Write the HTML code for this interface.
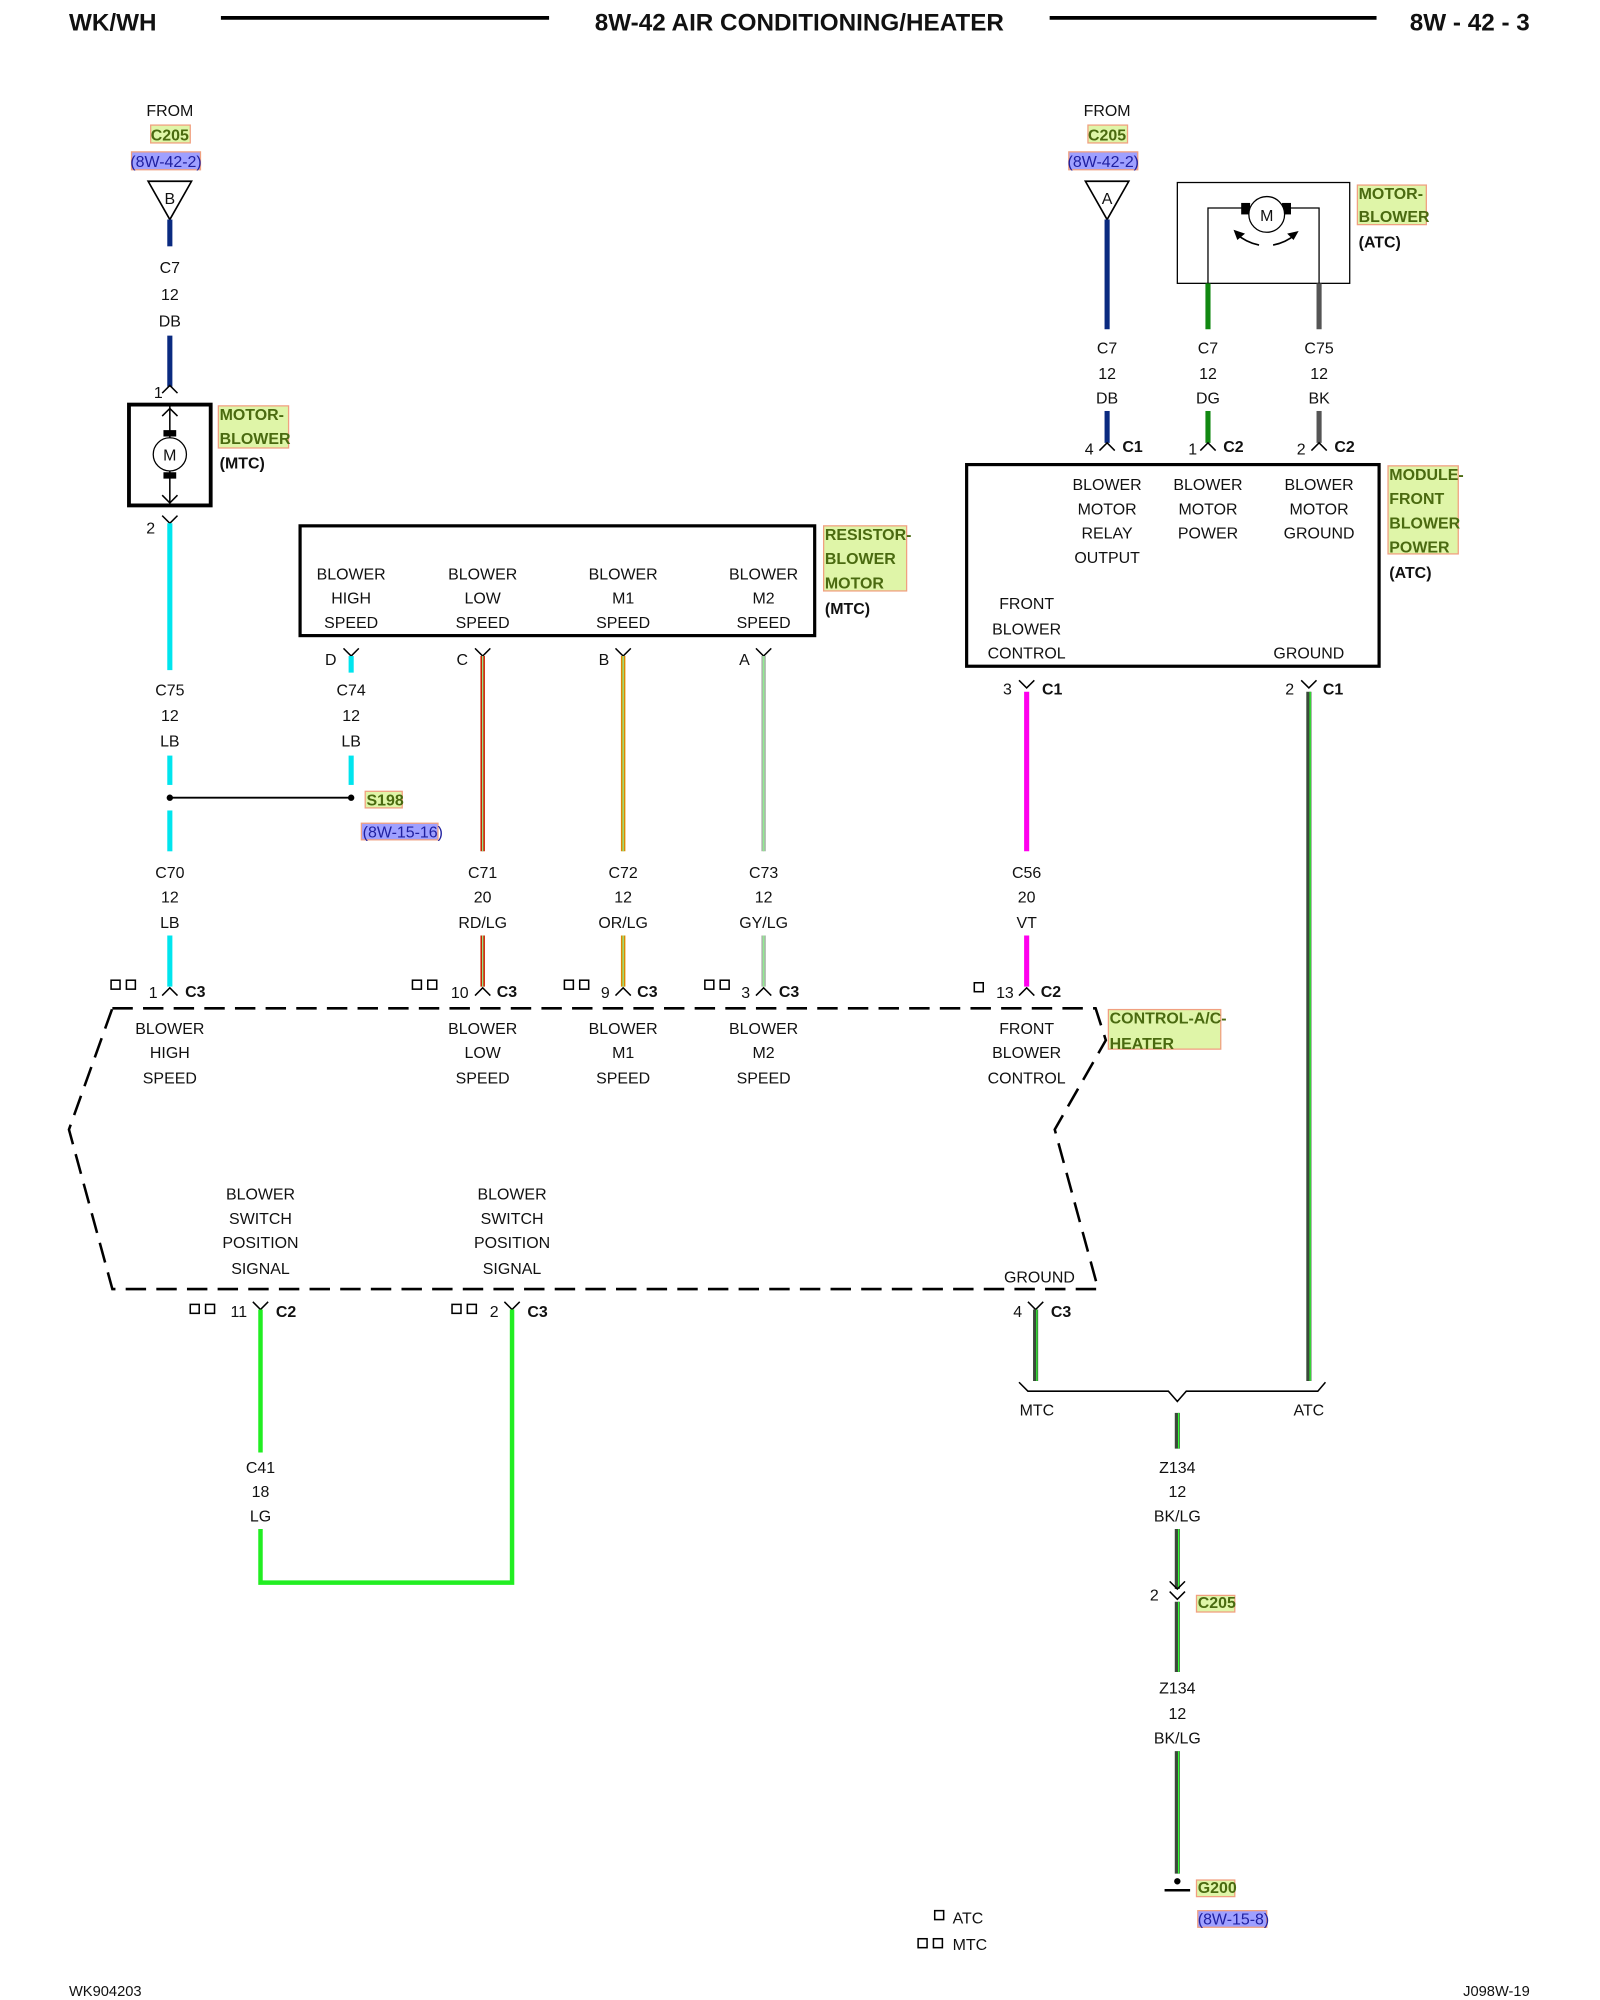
<!DOCTYPE html>
<html><head><meta charset="utf-8"><style>
html,body{margin:0;padding:0;background:#fff;}
svg{display:block}
text{font-family:"Liberation Sans",sans-serif;font-size:12.5px;fill:#111;text-anchor:middle}
.b{font-weight:bold}
.l{text-anchor:start}
.r{text-anchor:end}
.g{fill:#4a6a10;font-weight:bold;text-anchor:start}
.p{fill:#2020a0;text-anchor:start}
</style></head><body>
<svg width="1600" height="2000" viewBox="0 0 1253 1567" preserveAspectRatio="none" xmlns="http://www.w3.org/2000/svg">
<rect width="1253" height="1567" fill="#fff"/>
<!-- header -->
<text x="54" y="24" class="b l" style="font-size:19px">WK/WH</text>
<line x1="173" y1="14" x2="430" y2="14" stroke="#000" stroke-width="3"/>
<text x="626" y="24" class="b" style="font-size:19px">8W-42 AIR CONDITIONING/HEATER</text>
<line x1="822" y1="14" x2="1078" y2="14" stroke="#000" stroke-width="3"/>
<text x="1198" y="24" class="b r" style="font-size:19px">8W - 42 - 3</text>

<!-- highlight boxes -->
<g stroke="#f0a080" stroke-width="1">
<rect x="118" y="98" width="31" height="14" fill="#dff5a8"/>
<rect x="852" y="98" width="31" height="14" fill="#dff5a8"/>
<rect x="171" y="318" width="55" height="33" fill="#dff5a8"/>
<rect x="645" y="412" width="65" height="51" fill="#dff5a8"/>
<rect x="1063" y="145" width="54" height="31" fill="#dff5a8"/>
<rect x="1087" y="365" width="55" height="69" fill="#dff5a8"/>
<rect x="868" y="791" width="88" height="31" fill="#dff5a8"/>
<rect x="286" y="620" width="29" height="13" fill="#dff5a8"/>
<rect x="937" y="1250" width="30" height="13" fill="#dff5a8"/>
<rect x="937" y="1473" width="30" height="13" fill="#dff5a8"/>
<rect x="103" y="119" width="54" height="14" fill="#9fa0ff"/>
<rect x="837" y="119" width="54" height="14" fill="#9fa0ff"/>
<rect x="283" y="645" width="60" height="13" fill="#9fa0ff"/>
<rect x="938" y="1497" width="54" height="13" fill="#9fa0ff"/>
</g>

<!-- LEFT top -->
<text x="133" y="91">FROM</text>
<text x="133" y="110" class="g" style="text-anchor:middle">C205</text>
<text x="130" y="131" style="fill:#2020a0">(8W-42-2)</text>
<polygon points="116,142 150,142 133,172" fill="#fff" stroke="#000" stroke-width="1.3"/>
<text x="133" y="160">B</text>
<line x1="133" y1="172" x2="133" y2="193" stroke="#0a2a80" stroke-width="4"/>
<text x="133" y="214">C7</text><text x="133" y="235">12</text><text x="133" y="256">DB</text>
<line x1="133" y1="263" x2="133" y2="303" stroke="#0a2a80" stroke-width="4"/>
<path d="M127,308 L133,302 L139,308" fill="none" stroke="#000" stroke-width="1.2"/>
<text x="124" y="312">1</text>
<rect x="101" y="317" width="64" height="79" fill="none" stroke="#000" stroke-width="3"/>
<line x1="133" y1="318" x2="133" y2="395" stroke="#000" stroke-width="1.2"/>
<path d="M127,326 L133,320 L139,326 M127,388 L133,394 L139,388" fill="none" stroke="#000" stroke-width="1.2"/>
<rect x="128" y="337" width="10" height="5" fill="#000"/><rect x="128" y="370" width="10" height="5" fill="#000"/>
<circle cx="133" cy="356" r="13" fill="#fff" stroke="#000" stroke-width="1"/>
<text x="133" y="361">M</text>
<text x="172" y="329" class="g">MOTOR-</text><text x="172" y="348" class="g">BLOWER</text>
<text x="172" y="367" class="b l">(MTC)</text>
<text x="118" y="418">2</text>
<path d="M127,404 L133,410 L139,404" fill="none" stroke="#000" stroke-width="1.2"/>
<line x1="133" y1="410" x2="133" y2="525" stroke="#00e5ee" stroke-width="4"/>
<text x="133" y="545">C75</text><text x="133" y="565">12</text><text x="133" y="585">LB</text>
<line x1="133" y1="592" x2="133" y2="615" stroke="#00e5ee" stroke-width="4"/>
<line x1="133" y1="625" x2="275" y2="625" stroke="#000" stroke-width="1.5"/>
<circle cx="133" cy="625" r="2.5" fill="#000"/><circle cx="275" cy="625" r="2.5" fill="#000"/>
<line x1="133" y1="635" x2="133" y2="667" stroke="#00e5ee" stroke-width="4"/>
<text x="133" y="688">C70</text><text x="133" y="707">12</text><text x="133" y="727">LB</text>
<line x1="133" y1="733" x2="133" y2="773" stroke="#00e5ee" stroke-width="4"/>

<!-- C74 -->
<text x="259" y="521">D</text>
<path d="M269,508 L275,514 L281,508" fill="none" stroke="#000" stroke-width="1.2"/>
<line x1="275" y1="514" x2="275" y2="527" stroke="#00e5ee" stroke-width="4"/>
<text x="275" y="545">C74</text><text x="275" y="565">12</text><text x="275" y="585">LB</text>
<line x1="275" y1="592" x2="275" y2="615" stroke="#00e5ee" stroke-width="4"/>
<text x="287" y="631" class="g">S198</text>
<text x="284" y="656" class="p">(8W-15-16)</text>

<!-- resistor box -->
<rect x="235" y="412" width="403" height="86" fill="none" stroke="#000" stroke-width="2.5"/>
<g>
<text x="275" y="454">BLOWER</text><text x="275" y="473">HIGH</text><text x="275" y="492">SPEED</text>
<text x="378" y="454">BLOWER</text><text x="378" y="473">LOW</text><text x="378" y="492">SPEED</text>
<text x="488" y="454">BLOWER</text><text x="488" y="473">M1</text><text x="488" y="492">SPEED</text>
<text x="598" y="454">BLOWER</text><text x="598" y="473">M2</text><text x="598" y="492">SPEED</text>
</g>
<text x="646" y="423" class="g">RESISTOR-</text><text x="646" y="442" class="g">BLOWER</text><text x="646" y="461" class="g">MOTOR</text>
<text x="646" y="481" class="b l">(MTC)</text>

<!-- C71 C72 C73 -->
<text x="362" y="521">C</text><text x="473" y="521">B</text><text x="583" y="521">A</text>
<path d="M372,508 L378,514 L384,508 M482,508 L488,514 L494,508 M592,508 L598,514 L604,508" fill="none" stroke="#000" stroke-width="1.2"/>
<g stroke-width="3.5">
<line x1="378" y1="514" x2="378" y2="667" stroke="#cc2200"/>
<line x1="488" y1="514" x2="488" y2="667" stroke="#dd8800"/>
<line x1="598" y1="514" x2="598" y2="667" stroke="#a8b8a8"/>
<line x1="378" y1="733" x2="378" y2="773" stroke="#cc2200"/>
<line x1="488" y1="733" x2="488" y2="773" stroke="#dd8800"/>
<line x1="598" y1="733" x2="598" y2="773" stroke="#a8b8a8"/>
</g>
<g stroke="#90ee90" stroke-width="1">
<line x1="378" y1="514" x2="378" y2="667"/><line x1="488" y1="514" x2="488" y2="667"/><line x1="598" y1="514" x2="598" y2="667"/>
<line x1="378" y1="733" x2="378" y2="773"/><line x1="488" y1="733" x2="488" y2="773"/><line x1="598" y1="733" x2="598" y2="773"/>
</g>
<text x="378" y="688">C71</text><text x="378" y="707">20</text><text x="378" y="727">RD/LG</text>
<text x="488" y="688">C72</text><text x="488" y="707">12</text><text x="488" y="727">OR/LG</text>
<text x="598" y="688">C73</text><text x="598" y="707">12</text><text x="598" y="727">GY/LG</text>

<!-- C56 -->
<line x1="804" y1="542" x2="804" y2="667" stroke="#ff00ee" stroke-width="4"/>
<line x1="804" y1="733" x2="804" y2="773" stroke="#ff00ee" stroke-width="4"/>
<text x="804" y="688">C56</text><text x="804" y="707">20</text><text x="804" y="727">VT</text>

<!-- control pins top -->
<g fill="none" stroke="#000" stroke-width="1.2">
<path d="M127,780 L133,774 L139,780 M372,780 L378,774 L384,780 M482,780 L488,774 L494,780 M592,780 L598,774 L604,780 M798,780 L804,774 L810,780"/>
<rect x="87" y="768" width="7" height="7"/><rect x="99" y="768" width="7" height="7"/>
<rect x="323" y="768" width="7" height="7"/><rect x="335" y="768" width="7" height="7"/>
<rect x="442" y="768" width="7" height="7"/><rect x="454" y="768" width="7" height="7"/>
<rect x="552" y="768" width="7" height="7"/><rect x="564" y="768" width="7" height="7"/>
<rect x="763" y="770" width="7" height="7"/>
</g>
<text x="120" y="782">1</text><text x="145" y="781" class="b l">C3</text>
<text x="360" y="782">10</text><text x="389" y="781" class="b l">C3</text>
<text x="474" y="782">9</text><text x="499" y="781" class="b l">C3</text>
<text x="584" y="782">3</text><text x="610" y="781" class="b l">C3</text>
<text x="787" y="782">13</text><text x="815" y="781" class="b l">C2</text>

<!-- control dashed box -->
<path d="M88,790 L858,790 L866,815 L826,885 L860,1010 L88,1010 L54,885 L88,790" fill="none" stroke="#000" stroke-width="2" stroke-dasharray="16,8"/>
<text x="133" y="810">BLOWER</text><text x="133" y="829">HIGH</text><text x="133" y="849">SPEED</text>
<text x="378" y="810">BLOWER</text><text x="378" y="829">LOW</text><text x="378" y="849">SPEED</text>
<text x="488" y="810">BLOWER</text><text x="488" y="829">M1</text><text x="488" y="849">SPEED</text>
<text x="598" y="810">BLOWER</text><text x="598" y="829">M2</text><text x="598" y="849">SPEED</text>
<text x="804" y="810">FRONT</text><text x="804" y="829">BLOWER</text><text x="804" y="849">CONTROL</text>
<text x="869" y="802" class="g">CONTROL-A/C-</text><text x="869" y="822" class="g">HEATER</text>
<text x="204" y="940">BLOWER</text><text x="204" y="959">SWITCH</text><text x="204" y="978">POSITION</text><text x="204" y="998">SIGNAL</text>
<text x="401" y="940">BLOWER</text><text x="401" y="959">SWITCH</text><text x="401" y="978">POSITION</text><text x="401" y="998">SIGNAL</text>
<text x="814" y="1005">GROUND</text>

<!-- bottom pins -->
<g fill="none" stroke="#000" stroke-width="1.2">
<path d="M198,1020 L204,1026 L210,1020 M395,1020 L401,1026 L407,1020 M805,1020 L811,1026 L817,1020"/>
<rect x="149" y="1022" width="7" height="7"/><rect x="161" y="1022" width="7" height="7"/>
<rect x="354" y="1022" width="7" height="7"/><rect x="366" y="1022" width="7" height="7"/>
</g>
<text x="187" y="1032">11</text><text x="216" y="1032" class="b l">C2</text>
<text x="387" y="1032">2</text><text x="413" y="1032" class="b l">C3</text>
<text x="797" y="1032">4</text><text x="823" y="1032" class="b l">C3</text>

<!-- LG wires -->
<path d="M204,1026 L204,1138 M204,1198 L204,1240 L401,1240 L401,1026" fill="none" stroke="#22ee22" stroke-width="3.5"/>
<text x="204" y="1154">C41</text><text x="204" y="1173">18</text><text x="204" y="1192">LG</text>

<!-- ground bus -->
<g stroke-width="4" stroke="#3a4a3a" fill="none">
<line x1="811" y1="1026" x2="811" y2="1082"/>
<line x1="1025" y1="542" x2="1025" y2="1082"/>
<line x1="922" y1="1107" x2="922" y2="1135"/>
<line x1="922" y1="1198" x2="922" y2="1245"/>
<line x1="922" y1="1255" x2="922" y2="1310"/>
<line x1="922" y1="1372" x2="922" y2="1468"/>
</g>
<g stroke-width="1" stroke="#33ff33" fill="none">
<line x1="812" y1="1026" x2="812" y2="1082"/>
<line x1="1026" y1="542" x2="1026" y2="1082"/>
<line x1="923" y1="1107" x2="923" y2="1135"/>
<line x1="923" y1="1198" x2="923" y2="1245"/>
<line x1="923" y1="1255" x2="923" y2="1310"/>
<line x1="923" y1="1372" x2="923" y2="1468"/>
</g>
<path d="M798,1083 L805,1090 L915,1090 L922,1098 L929,1090 L1032,1090 L1038,1083" fill="none" stroke="#000" stroke-width="1.2"/>
<text x="812" y="1109">MTC</text><text x="1025" y="1109">ATC</text>
<text x="922" y="1154">Z134</text><text x="922" y="1173">12</text><text x="922" y="1192">BK/LG</text>
<path d="M916,1239 L922,1245 L928,1239 M916,1247 L922,1253 L928,1247" fill="none" stroke="#000" stroke-width="1.2"/>
<text x="904" y="1254">2</text>
<text x="938" y="1260" class="g">C205</text>
<text x="922" y="1327">Z134</text><text x="922" y="1347">12</text><text x="922" y="1366">BK/LG</text>
<circle cx="922" cy="1474" r="2.5" fill="#000"/>
<line x1="912" y1="1481" x2="932" y2="1481" stroke="#000" stroke-width="2"/>
<text x="938" y="1483" class="g">G200</text>
<text x="938" y="1508" class="p">(8W-15-8)</text>

<!-- legend -->
<g fill="none" stroke="#000" stroke-width="1.2">
<rect x="732" y="1497" width="7" height="7"/>
<rect x="719" y="1519" width="7" height="7"/><rect x="731" y="1519" width="7" height="7"/>
</g>
<text x="746" y="1507" class="l">ATC</text>
<text x="746" y="1528" class="l">MTC</text>

<!-- RIGHT side -->
<text x="867" y="91">FROM</text>
<text x="867" y="110" class="g" style="text-anchor:middle">C205</text>
<text x="864" y="131" style="fill:#2020a0">(8W-42-2)</text>
<polygon points="850,142 884,142 867,172" fill="#fff" stroke="#000" stroke-width="1.3"/>
<text x="867" y="160">A</text>
<line x1="867" y1="172" x2="867" y2="258" stroke="#0a2a80" stroke-width="4"/>
<text x="867" y="277">C7</text><text x="867" y="297">12</text><text x="867" y="316">DB</text>
<line x1="867" y1="322" x2="867" y2="347" stroke="#0a2a80" stroke-width="4"/>

<rect x="922" y="143" width="135" height="79" fill="#fff" stroke="#000" stroke-width="1"/>
<path d="M946,222 L946,163 L975,163 M1010,163 L1033,163 L1033,222" fill="none" stroke="#000" stroke-width="1"/>
<rect x="972" y="159" width="7" height="9" fill="#000"/><rect x="1004" y="159" width="7" height="9" fill="#000"/>
<circle cx="992" cy="168" r="14" fill="#fff" stroke="#000" stroke-width="1"/>
<text x="992" y="173">M</text>
<path d="M986,192 Q976,190 968,183 M997,192 Q1007,190 1014,184" fill="none" stroke="#000" stroke-width="1.3"/>
<polygon points="966,180 975,183 969,188" fill="#000"/><polygon points="1017,181 1008,183 1013,188" fill="#000"/>
<text x="1064" y="156" class="g">MOTOR-</text><text x="1064" y="174" class="g">BLOWER</text>
<text x="1064" y="194" class="b l">(ATC)</text>
<line x1="946" y1="222" x2="946" y2="258" stroke="#118811" stroke-width="4"/>
<line x1="1033" y1="222" x2="1033" y2="258" stroke="#555" stroke-width="4"/>
<text x="946" y="277">C7</text><text x="946" y="297">12</text><text x="946" y="316">DG</text>
<text x="1033" y="277">C75</text><text x="1033" y="297">12</text><text x="1033" y="316">BK</text>
<line x1="946" y1="322" x2="946" y2="347" stroke="#118811" stroke-width="4"/>
<line x1="1033" y1="322" x2="1033" y2="347" stroke="#555" stroke-width="4"/>
<path d="M861,353 L867,347 L873,353 M940,353 L946,347 L952,353 M1027,353 L1033,347 L1039,353" fill="none" stroke="#000" stroke-width="1.2"/>
<text x="853" y="356">4</text><text x="879" y="354" class="b l">C1</text>
<text x="934" y="356">1</text><text x="958" y="354" class="b l">C2</text>
<text x="1019" y="356">2</text><text x="1045" y="354" class="b l">C2</text>

<rect x="757" y="364" width="323" height="158" fill="none" stroke="#000" stroke-width="2.5"/>
<text x="867" y="384">BLOWER</text><text x="867" y="403">MOTOR</text><text x="867" y="422">RELAY</text><text x="867" y="441">OUTPUT</text>
<text x="946" y="384">BLOWER</text><text x="946" y="403">MOTOR</text><text x="946" y="422">POWER</text>
<text x="1033" y="384">BLOWER</text><text x="1033" y="403">MOTOR</text><text x="1033" y="422">GROUND</text>
<text x="804" y="477">FRONT</text><text x="804" y="497">BLOWER</text><text x="804" y="516">CONTROL</text>
<text x="1025" y="516">GROUND</text>
<text x="1088" y="376" class="g">MODULE-</text><text x="1088" y="395" class="g">FRONT</text><text x="1088" y="414" class="g">BLOWER</text><text x="1088" y="433" class="g">POWER</text>
<text x="1088" y="453" class="b l">(ATC)</text>
<path d="M798,533 L804,539 L810,533 M1019,533 L1025,539 L1031,533" fill="none" stroke="#000" stroke-width="1.2"/>
<text x="789" y="544">3</text><text x="816" y="544" class="b l">C1</text>
<text x="1010" y="544">2</text><text x="1036" y="544" class="b l">C1</text>

<!-- footer -->
<text x="54" y="1564" class="l" style="font-size:11.5px">WK904203</text>
<text x="1198" y="1564" class="r" style="font-size:11.5px">J098W-19</text>
</svg>
</body></html>
